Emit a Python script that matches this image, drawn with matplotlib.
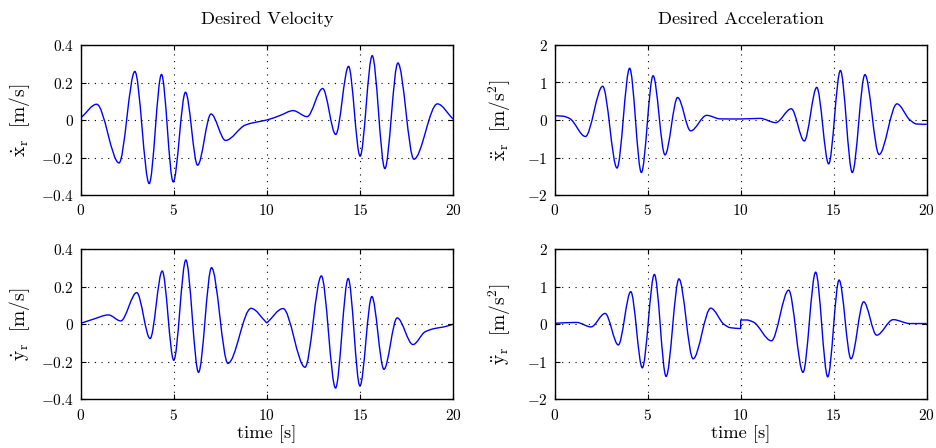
import numpy as np
import matplotlib
matplotlib.use("Agg")
import matplotlib.pyplot as plt
from matplotlib.path import Path
from matplotlib.patches import PathPatch
from matplotlib.ticker import FuncFormatter, MultipleLocator

plt.rcParams["font.family"] = "serif"
plt.rcParams["font.serif"] = ["cmr10"]
plt.rcParams["mathtext.fontset"] = "cm"
plt.rcParams["axes.formatter.use_mathtext"] = True

# ---- data (time [s], value) ----
# A repeated time marks a break (corner / jump) in the trace.
t_xd = [0, 0.86, 2.06, 2.91, 3.68, 4.34, 4.97, 5.63, 6.28, 7.0, 7.78, 8.84, 9.3,
        10.0, 10.73, 11.41, 12.16, 13.0, 13.7, 14.39, 15.01, 15.66, 16.34, 17.04,
        17.9, 19.16, 20]
xd = [0.01, 0.084, -0.229, 0.259, -0.339, 0.243, -0.33, 0.148, -0.241, 0.032,
      -0.109, -0.027, -0.014, 0.0, 0.025, 0.05, 0.018, 0.168, -0.077, 0.286,
      -0.193, 0.343, -0.259, 0.304, -0.209, 0.086, 0.005]

t_yd = [0, 0.7, 1.49, 2.15, 3.01, 3.73, 4.38, 5.0, 5.65, 6.33, 7.03, 7.91, 9.15,
        10.0, 10.0, 10.87, 12.05, 12.93, 13.69, 14.37, 15.0, 15.64, 16.29, 17.0,
        17.85, 18.5, 18.98, 19.5, 20]
yd = [0.005, 0.028, 0.05, 0.018, 0.169, -0.076, 0.284, -0.192, 0.343, -0.256,
      0.302, -0.208, 0.085, 0.007, 0.007, 0.084, -0.229, 0.258, -0.34, 0.244,
      -0.329, 0.148, -0.24, 0.034, -0.108, -0.04, -0.023, -0.014, 0.0]

t_xdd = [0, 0.47, 0.82, 1.65, 2.58, 3.35, 4.03, 4.66, 5.29, 5.93, 6.61, 7.31,
         8.17, 8.9, 9.96, 11.04, 11.88, 12.72, 13.42, 14.09, 14.73, 15.36, 16.0,
         16.68, 17.44, 18.4, 19.1, 19.46, 20]
xdd = [0.115, 0.10, 0.035, -0.44, 0.90, -1.28, 1.38, -1.40, 1.18, -0.93, 0.60,
       -0.29, 0.124, 0.03, 0.027, 0.044, -0.07, 0.30, -0.56, 0.87, -1.17, 1.32,
       -1.40, 1.21, -0.92, 0.43, 0.0, -0.107, -0.115]

t_ydd = [0, 1.18, 1.95, 2.71, 3.42, 4.09, 4.71, 5.36, 5.99, 6.68, 7.44, 8.39, 9.1,
         9.43, 10.0, 10.0, 10.32, 10.68, 11.65, 12.58, 13.35, 14.03, 14.68, 15.29,
         15.93, 16.61, 17.31, 18.2, 19.1, 20]
ydd = [0.027, 0.05, -0.07, 0.29, -0.55, 0.87, -1.16, 1.33, -1.39, 1.21, -0.92,
       0.43, 0.0, -0.09, -0.115, 0.115, 0.115, 0.06, -0.44, 0.91, -1.28, 1.39,
       -1.40, 1.18, -0.92, 0.60, -0.29, 0.124, 0.02, 0.02]

titles = ["Desired Velocity", "Desired Acceleration"]
ylabels = [r"$\dot{\mathrm{x}}_{\mathrm{r}}\ \ [\mathrm{m/s}]$",
           r"$\ddot{\mathrm{x}}_{\mathrm{r}}\ \ [\mathrm{m/s^2}]$",
           r"$\dot{\mathrm{y}}_{\mathrm{r}}\ \ [\mathrm{m/s}]$",
           r"$\ddot{\mathrm{y}}_{\mathrm{r}}\ \ [\mathrm{m/s^2}]$"]
xlabel = "time [s]"


def _tangents(t, v):
    t = np.asarray(t, float)
    v = np.asarray(v, float)
    n = len(t)
    h = np.diff(t)
    d = np.diff(v) / h
    m = np.zeros(n)
    for k in range(1, n - 1):
        if d[k - 1] * d[k] > 0:
            w1 = 2 * h[k] + h[k - 1]
            w2 = h[k] + 2 * h[k - 1]
            m[k] = (w1 + w2) / (w1 / d[k - 1] + w2 / d[k])
    m[0] = d[0]
    m[-1] = d[-1]
    return m


def smooth_trace(ax, t, v, **kw):
    t = list(t)
    v = list(v)
    pieces, start = [], 0
    for i in range(1, len(t)):
        if t[i] == t[i - 1]:
            pieces.append((t[start:i], v[start:i]))
            start = i
    pieces.append((t[start:], v[start:]))
    verts, codes = [], []
    for pi, (tp, vp) in enumerate(pieces):
        m = _tangents(tp, vp)
        verts.append((tp[0], vp[0]))
        codes.append(Path.MOVETO if pi == 0 else Path.LINETO)
        for k in range(len(tp) - 1):
            h = tp[k + 1] - tp[k]
            verts += [(tp[k] + h / 3, vp[k] + m[k] * h / 3),
                      (tp[k + 1] - h / 3, vp[k + 1] - m[k + 1] * h / 3),
                      (tp[k + 1], vp[k + 1])]
            codes += [Path.CURVE4] * 3
    patch = PathPatch(Path(verts, codes), fill=False, transform=ax.transData, **kw)
    ax.add_patch(patch)
    return patch


fig = plt.figure(figsize=(9.36, 4.48), dpi=100)
W, H = 936.0, 448.0
boxes = [(80.7, 45, 453, 195), (554.7, 45, 926.7, 195),
         (80.7, 249.3, 453, 399.3), (554.7, 249.3, 926.7, 399.3)]
series = [(t_xd, xd), (t_xdd, xdd), (t_yd, yd), (t_ydd, ydd)]
ylims = [0.4, 2, 0.4, 2]
ysteps = [0.2, 1, 0.2, 1]
ylab_x = [-0.132, -0.112, -0.132, -0.112]

fmt = FuncFormatter(lambda val, pos: f"${val:g}$" if abs(val) > 1e-9 else "$0$")

for i, (x0, y0, x1, y1) in enumerate(boxes):
    ax = fig.add_axes([x0 / W, 1 - y1 / H, (x1 - x0) / W, (y1 - y0) / H])
    t, v = series[i]
    smooth_trace(ax, t, v, edgecolor="#0000ff", linewidth=1.0, clip_on=True)
    ax.set_xlim(0, 20)
    ax.set_ylim(-ylims[i], ylims[i])
    ax.xaxis.set_major_locator(MultipleLocator(5))
    ax.yaxis.set_major_locator(MultipleLocator(ysteps[i]))
    ax.xaxis.set_major_formatter(fmt)
    ax.yaxis.set_major_formatter(fmt)
    ax.grid(True, color="black", linestyle=(0, (1, 5)), linewidth=0.8)
    ax.tick_params(direction="in", top=True, right=True, length=3.5, width=0.8,
                   labelsize=11)
    ax.tick_params(axis="x", pad=6)
    ax.tick_params(axis="y", pad=5)
    for s in ax.spines.values():
        s.set_linewidth(1.0)
    ax.set_ylabel(ylabels[i], fontsize=14)
    ax.yaxis.set_label_coords(ylab_x[i], 0.5)
    if i < 2:
        ax.set_title(titles[i], fontsize=13.3, pad=15)
    else:
        ax.set_xlabel(xlabel, fontsize=13.3, labelpad=2)

fig.savefig("out.png", dpi=100)
